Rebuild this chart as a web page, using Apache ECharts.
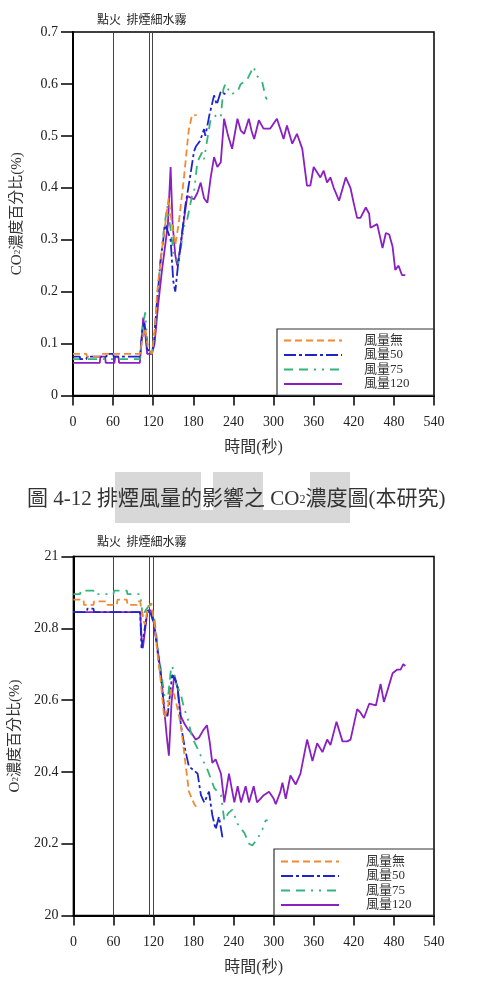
<!DOCTYPE html>
<html>
<head>
<meta charset="utf-8">
<script src="https://cdn.jsdelivr.net/npm/echarts@6/dist/echarts.min.js"></script>
<style>
html,body{margin:0;padding:0;background:#fff}
#main{width:478px;height:986px}
</style>
</head>
<body>
<div id="main"></div>
<script>
// 名稱
var seriesNames = ['風量無', '風量50', '風量75', '風量120'];
var eventTimes = [60, 114, 119];

// CO2 濃度 [秒, %]
var co2None = [[0,0.08],[20,0.08],[21,0.075],[40,0.075],[41,0.08],[100,0.08],[104,0.11],[108,0.13],[112,0.09],[118,0.08],[122,0.12],[126,0.20],[132,0.27],[138,0.33],[143,0.38],[148,0.33],[153,0.29],[158,0.33],[166,0.42],[173,0.51],[178,0.54],[185,0.54]];
var co2Fan50 = [[0,0.075],[10,0.075],[11,0.07],[20,0.07],[21,0.075],[50,0.075],[51,0.08],[60,0.08],[61,0.075],[100,0.075],[104,0.13],[107,0.14],[111,0.09],[117,0.08],[121,0.10],[125,0.17],[131,0.26],[138,0.33],[146,0.30],[150,0.22],[153,0.20],[157,0.25],[162,0.30],[168,0.365],[175,0.42],[181,0.47],[184,0.48],[190,0.49],[196,0.513],[198,0.50],[204,0.54],[211,0.578],[215,0.56],[221,0.585],[228,0.58]];
var co2Fan75 = [[0,0.07],[100,0.07],[104,0.13],[108,0.16],[112,0.09],[118,0.08],[122,0.12],[128,0.22],[135,0.31],[141,0.365],[146,0.32],[151,0.27],[157,0.25],[162,0.29],[166,0.326],[171,0.34],[178,0.384],[181,0.39],[186,0.45],[193,0.468],[196,0.455],[201,0.494],[206,0.533],[215,0.54],[221,0.536],[225,0.59],[228,0.60],[232,0.59],[236,0.58],[246,0.585],[251,0.60],[260,0.607],[270,0.633],[275,0.616],[283,0.604],[288,0.575],[290,0.57]];
var co2Fan120 = [[0,0.063],[40,0.063],[41,0.075],[48,0.075],[49,0.063],[62,0.063],[63,0.075],[68,0.075],[69,0.063],[100,0.063],[103,0.11],[105,0.15],[108,0.12],[111,0.08],[118,0.08],[122,0.10],[127,0.17],[133,0.24],[138,0.29],[142,0.33],[146,0.44],[149,0.33],[153,0.27],[156,0.25],[160,0.28],[165,0.33],[171,0.384],[181,0.378],[186,0.39],[191,0.41],[196,0.38],[201,0.371],[206,0.42],[211,0.459],[216,0.44],[221,0.449],[226,0.533],[232,0.50],[238,0.475],[246,0.533],[251,0.51],[256,0.504],[263,0.533],[267,0.51],[271,0.494],[278,0.53],[285,0.514],[295,0.514],[305,0.533],[311,0.51],[315,0.494],[320,0.52],[328,0.485],[335,0.504],[343,0.475],[350,0.404],[355,0.404],[360,0.44],[365,0.43],[370,0.42],[375,0.433],[380,0.41],[385,0.42],[390,0.40],[398,0.375],[408,0.42],[415,0.40],[420,0.37],[425,0.342],[430,0.342],[438,0.362],[443,0.35],[445,0.323],[455,0.33],[463,0.284],[468,0.313],[473,0.31],[478,0.287],[482,0.242],[487,0.25],[492,0.232],[497,0.232]];

// O2 濃度 [秒, %]
var o2None = [[0,20.88],[15,20.88],[16,20.865],[30,20.865],[31,20.875],[50,20.875],[51,20.865],[65,20.865],[66,20.88],[80,20.88],[81,20.865],[95,20.865],[96,20.875],[100,20.875],[104,20.83],[107,20.81],[111,20.85],[116,20.87],[121,20.82],[126,20.73],[131,20.65],[136,20.55],[141,20.575],[146,20.63],[151,20.615],[156,20.575],[161,20.53],[168,20.42],[173,20.345],[181,20.31],[185,20.30]];
var o2Fan50 = [[0,20.845],[20,20.845],[21,20.855],[30,20.855],[31,20.845],[100,20.845],[102,20.745],[106,20.79],[111,20.85],[116,20.84],[121,20.81],[126,20.735],[131,20.665],[136,20.575],[141,20.555],[148,20.67],[153,20.655],[156,20.635],[161,20.53],[167,20.465],[173,20.415],[180,20.405],[186,20.395],[191,20.335],[196,20.315],[203,20.345],[208,20.28],[213,20.24],[218,20.275],[223,20.22],[228,20.215]];
var o2Fan75 = [[0,20.895],[10,20.895],[11,20.905],[30,20.905],[31,20.895],[60,20.895],[61,20.905],[80,20.905],[81,20.895],[100,20.895],[104,20.83],[108,20.85],[112,20.86],[116,20.875],[121,20.83],[126,20.755],[131,20.685],[136,20.615],[141,20.595],[146,20.685],[148,20.695],[154,20.645],[161,20.615],[166,20.575],[171,20.55],[178,20.495],[186,20.465],[193,20.435],[201,20.405],[211,20.355],[216,20.345],[221,20.335],[226,20.265],[232,20.285],[238,20.295],[246,20.255],[256,20.23],[263,20.2],[268,20.195],[276,20.215],[283,20.24],[288,20.265],[291,20.265]];
var o2Fan120 = [[0,20.845],[100,20.845],[102,20.775],[104,20.745],[107,20.79],[111,20.85],[116,20.85],[121,20.81],[126,20.745],[131,20.675],[136,20.575],[140,20.495],[143,20.445],[147,20.595],[151,20.67],[156,20.635],[161,20.555],[166,20.535],[171,20.52],[178,20.505],[183,20.49],[188,20.495],[194,20.515],[200,20.53],[204,20.485],[208,20.425],[213,20.435],[217,20.415],[221,20.395],[226,20.315],[233,20.395],[237,20.355],[241,20.315],[246,20.36],[251,20.315],[258,20.36],[263,20.315],[270,20.36],[275,20.315],[280,20.325],[285,20.335],[293,20.345],[300,20.325],[303,20.31],[310,20.345],[313,20.37],[318,20.325],[325,20.39],[333,20.365],[340,20.395],[350,20.49],[358,20.43],[365,20.48],[373,20.455],[380,20.49],[385,20.475],[394,20.54],[403,20.485],[410,20.485],[415,20.49],[425,20.575],[430,20.565],[435,20.55],[443,20.59],[453,20.585],[460,20.645],[465,20.595],[470,20.625],[478,20.675],[485,20.685],[490,20.685],[494,20.70],[497,20.695]];

var colors = ['#f08a34', '#1f24c8', '#34b47a', '#8a1fc2'];
var dashes = [[7, 4], [12, 3, 3, 3], [9, 6, 9, 6, 2, 6, 2, 6], 'solid'];
var serif = '"Liberation Serif", "Noto Sans CJK TC", serif';

function makeSeries(name, data, idx, axisIdx, marks) {
	var s = {
		name: name,
		type: 'line',
		xAxisIndex: axisIdx,
		yAxisIndex: axisIdx,
		data: data,
		symbol: 'none',
		showSymbol: false,
		z: 10 - idx,
		lineStyle: {color: colors[idx], width: 1.8, type: dashes[idx]},
		itemStyle: {color: colors[idx]}
	};
	if (marks) {
		s.markLine = {
			silent: true,
			symbol: 'none',
			label: {show: false},
			lineStyle: {color: '#444', width: 1, type: 'solid'},
			data: eventTimes.map(function (t) { return {xAxis: t}; })
		};
	}
	return s;
}

var co2Data = [co2None, co2Fan50, co2Fan75, co2Fan120];
var o2Data = [o2None, o2Fan50, o2Fan75, o2Fan120];
var series = [];
for (var i = 0; i < 4; i++) {
	series.push(makeSeries(seriesNames[i], co2Data[i], i, 0, i == 0));
}
for (var j = 0; j < 4; j++) {
	series.push(makeSeries(seriesNames[j], o2Data[j], j, 1, j == 0));
}

function xAxisOpt(gi) {
	return {
		type: 'value', gridIndex: gi, min: 0, max: 540, interval: 60,
		name: '時間(秒)', nameLocation: 'middle', nameGap: 44,
		nameTextStyle: {fontFamily: serif, fontSize: 16, color: '#333'},
		axisLine: {lineStyle: {color: '#000', width: 2}},
		axisTick: {length: 10, lineStyle: {color: '#000', width: 1.5}},
		axisLabel: {margin: 20, fontFamily: serif, fontSize: 14, color: '#222'},
		splitLine: {show: false}
	};
}
function yAxisOpt(gi, name, min, max, interval) {
	return {
		type: 'value', gridIndex: gi, min: min, max: max, interval: interval,
		name: name, nameLocation: 'middle', nameGap: 48, nameRotate: 90,
		nameTextStyle: {fontFamily: serif, fontSize: 15, color: '#333',
			rich: {s: {fontSize: 9, fontFamily: serif, color: '#333'}}},
		axisLine: {lineStyle: {color: '#000', width: 2}},
		axisTick: {length: 12, lineStyle: {color: '#000', width: 1.5}},
		axisLabel: {margin: 15, fontFamily: serif, fontSize: 14, color: '#222'},
		splitLine: {show: false}
	};
}
function legendOpt(left, top, gap) {
	return {
		orient: 'vertical', left: left, top: top, padding: 0,
		itemWidth: 58, itemHeight: 12, itemGap: 1.5,
		data: seriesNames,
		itemStyle: {opacity: 0},
		textStyle: {fontFamily: serif, fontSize: 13, color: '#333', lineHeight: 12, padding: [0, 0, 0, gap]}
	};
}

var option = {
	backgroundColor: '#fff',
	animation: false,
	grid: [
		{left: 73, top: 32, width: 361, height: 363.5, show: true, borderColor: '#000', borderWidth: 1.5},
		{left: 73, top: 556.5, width: 361, height: 359, show: true, borderColor: '#000', borderWidth: 1.5}
	],
	xAxis: [xAxisOpt(0), xAxisOpt(1)],
	yAxis: [
		yAxisOpt(0, 'CO{s|2}濃度百分比(%)', 0, 0.7, 0.1),
		yAxisOpt(1, 'O{s|2}濃度百分比(%)', 20, 21, 0.2)
	],
	legend: [legendOpt(283, 334, 17), legendOpt(280, 855, 22)],
	graphic: [
		// 浮水印
		{type: 'rect', z: -10, shape: {x: 115, y: 472, width: 86, height: 40}, style: {fill: '#d8d8d8'}},
		{type: 'rect', z: -10, shape: {x: 213, y: 472, width: 50, height: 40}, style: {fill: '#d8d8d8'}},
		{type: 'rect', z: -10, shape: {x: 310, y: 472, width: 40, height: 40}, style: {fill: '#d8d8d8'}},
		{type: 'rect', z: -10, shape: {x: 115, y: 510, width: 235, height: 13}, style: {fill: '#d8d8d8'}},
		{type: 'text', z: 5, left: 97, top: 13, style: {text: '點火  排煙細水霧', font: '12px "Noto Sans CJK TC"', fill: '#222'}},
		{type: 'text', z: 5, left: 97, top: 535, style: {text: '點火  排煙細水霧', font: '12px "Noto Sans CJK TC"', fill: '#222'}},
		{type: 'text', z: 5, left: 27, top: 489, style: {
			text: '圖 4-12 排煙風量的影響之 CO{s|2}濃度圖(本研究)',
			font: '21px "Liberation Serif", "Noto Sans CJK TC"', fill: '#333',
			rich: {s: {fontSize: 12, fontFamily: serif, fill: '#333'}}
		}},
		{type: 'rect', z: 5, shape: {x: 277, y: 329, width: 157, height: 66.5}, style: {fill: 'none', stroke: '#333', lineWidth: 1.2}},
		{type: 'rect', z: 5, shape: {x: 274, y: 849, width: 160, height: 66.5}, style: {fill: 'none', stroke: '#333', lineWidth: 1.2}}
	],
	series: series
};

var myChart = echarts.init(document.getElementById('main'));
myChart.setOption(option);
</script>
</body>
</html>
